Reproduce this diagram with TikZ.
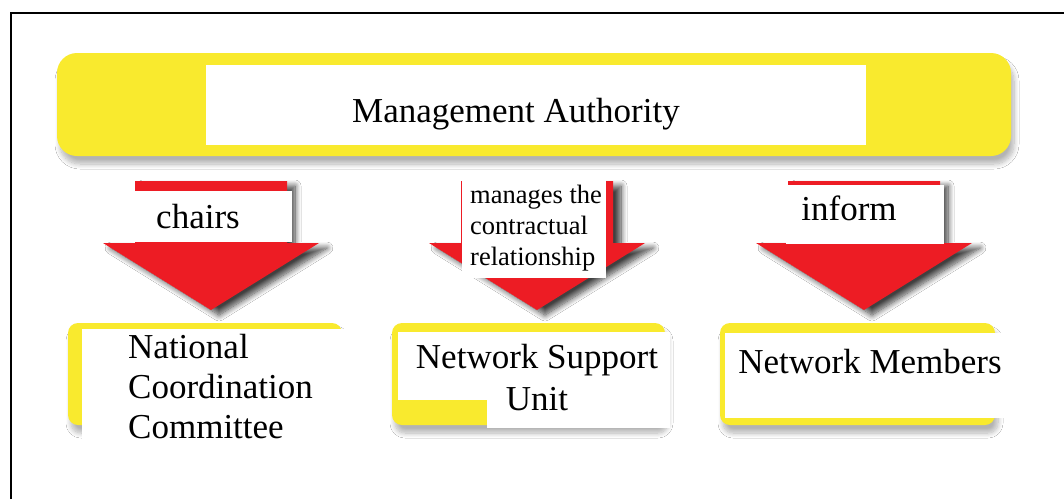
\documentclass[tikz,border=0pt]{standalone}
\usepackage{fontspec}
\setmainfont{Liberation Serif}
\usetikzlibrary{shadows.blur, positioning, calc}
\definecolor{plateyellow}{RGB}{249,234,46}
\definecolor{arrowred}{RGB}{237,28,36}

\tikzstyle{plate} = [rectangle, rounded corners=10pt,
minimum height=102pt,
inner sep=0pt,
fill=plateyellow,
blur shadow={shadow xshift=3pt, shadow yshift=-8pt, shadow blur radius=5pt, shadow blur steps=10, shadow opacity=30}]
\tikzstyle{card} = [rectangle,
inner sep=0pt,
fill=white]
\tikzstyle{bigtext} = [inner sep=0pt, font=\fontsize{35}{40}\selectfont]
\tikzstyle{smalltext} = [inner sep=0pt, font=\fontsize{26.5}{31}\selectfont]
\tikzstyle{blockarrow} = [fill=arrowred,
blur shadow={shadow xshift=8pt, shadow yshift=-5pt, shadow blur radius=6pt, shadow blur steps=10, shadow opacity=75}]

\begin{document}
\begin{tikzpicture}[x=1pt, y=-1pt]
    \useasboundingbox (0,0) rectangle (1064,499);
    \fill[white] (0,0) rectangle (1064,499);
    \draw[line width=2pt] (11,499) -- (11,13) -- (1064,13);

    % top banner
    \node (ma) [plate, rounded corners=20pt, minimum width=954pt, minimum height=103pt] at (534,104.5) {};
    \node (macard) [card, minimum width=660pt, minimum height=80pt] at (536,105) {};
    \node (matext) [bigtext, anchor=base] at (516,122) {Management Authority};

    % lower plates
    \node (nccplate) [plate, minimum width=274pt] at (205,374) {};
    \node (nsuplate) [plate, minimum width=273pt] at (528.5,374) {};
    \node (nmplate) [plate, minimum width=275pt] at (857.5,374) {};

    % arrows
    \coordinate (chairstop) at (211,181);
    \coordinate (managestop) at (537,181);
    \coordinate (informtop) at (864,181);
    \fill[blockarrow] (chairstop) ++(-76,0) -- ++(152,0) -- ++(0,62) -- ++(32,0) -- ++(-108,67) -- ++(-108,-67) -- ++(32,0) -- cycle;
    \fill[blockarrow] (managestop) ++(-76,0) -- ++(152,0) -- ++(0,62) -- ++(32,0) -- ++(-108,67) -- ++(-108,-67) -- ++(32,0) -- cycle;
    \fill[blockarrow] (informtop) ++(-76,0) -- ++(152,0) -- ++(0,62) -- ++(32,0) -- ++(-108,67) -- ++(-108,-67) -- ++(32,0) -- cycle;

    % arrow labels
    \node (chairscard) [card, minimum width=166pt, minimum height=51pt] at (209,216.5) {};
    \node (chairs) [bigtext, anchor=base] at (198,228) {chairs};
    \node (managescard) [card, minimum width=144pt, minimum height=99pt] at (534,228.5) {};
    \node (manages) [smalltext, align=left, anchor=north west] at (470,185) {manages the\\contractual\\relationship};
    \node (informcard) [card, minimum width=158pt, minimum height=59pt] at (865,214.5) {};
    \node (inform) [bigtext, anchor=base] at (849,220) {inform};

    % lower cards
    \node (ncccard) [card, minimum width=291pt, minimum height=124pt] at (227.5,391) {};
    \node (ncc) [bigtext, align=left, anchor=north west] at (128,334) {National\\Coordination\\Committee};
    \node (nsucard) [card, minimum width=272pt, minimum height=68pt] at (534,366) {};
    \node (nsucardb) [card, minimum width=183pt, minimum height=28pt] at (578.5,414) {};
    \node (nsu) [bigtext, font=\fontsize{35}{42}\selectfont, align=center, anchor=north] at (537,344) {Network Support\\Unit};
    \node (nmcard) [card, minimum width=284pt, minimum height=85pt] at (867,375.5) {};
    \node (nm) [bigtext, anchor=base] at (870,373) {Network Members};
\end{tikzpicture}
\end{document}
